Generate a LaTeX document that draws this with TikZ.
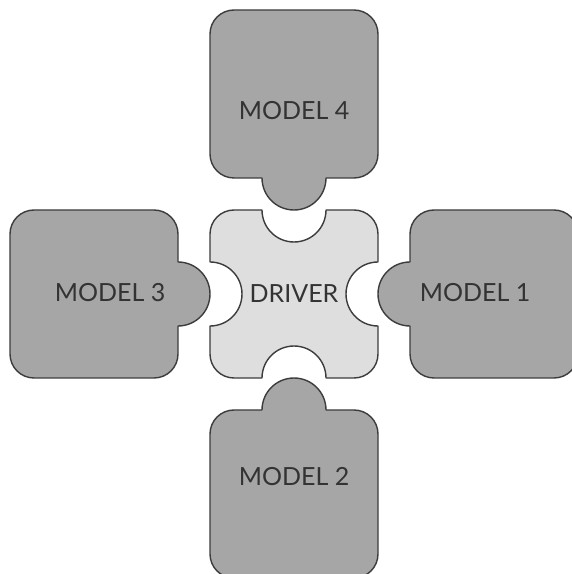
\documentclass[tikz,border=0pt]{standalone}
\usepackage{fontspec}
\setmainfont{Lato}
\definecolor{modelfill}{HTML}{A6A6A6}
\definecolor{driverfill}{HTML}{DEDEDE}
\definecolor{edge}{HTML}{3C3C3C}
\definecolor{txt}{HTML}{333333}
\tikzset{
  piece/.style={draw=edge, line width=1.4pt, line join=round},
  modelpiece/.style={piece, fill=modelfill},
  driverpiece/.style={piece, fill=driverfill},
  label/.style={text=txt, font=\fontsize{25}{29}\selectfont, inner sep=0pt}
}
\begin{document}
\begin{tikzpicture}[x=1pt,y=1pt]
\useasboundingbox (0,0) rectangle (572,574);
\clip (0,0) rectangle (572,574);
% Driver
\path[driverpiece] (210,340) arc[start angle=180,end angle=90,radius=24]
  -- (262,364) arc[start angle=180,end angle=360,radius=32]
  -- (354,364) arc[start angle=90,end angle=0,radius=24]
  -- (378,312) arc[start angle=90,end angle=270,radius=32]
  -- (378,220) arc[start angle=0,end angle=-90,radius=24]
  -- (326,196) arc[start angle=0,end angle=180,radius=32]
  -- (234,196) arc[start angle=270,end angle=180,radius=24]
  -- (210,248) arc[start angle=-90,end angle=90,radius=32]
  -- cycle;
% Model 4 (top)
\path[modelpiece] (210,540) arc[start angle=180,end angle=90,radius=24]
  -- (354,564) arc[start angle=90,end angle=0,radius=24]
  -- (378,420) arc[start angle=0,end angle=-90,radius=24]
  -- (326,396) arc[start angle=0,end angle=-180,radius=32]
  -- (234,396) arc[start angle=270,end angle=180,radius=24]
  -- cycle;
% Model 2 (bottom)
\path[modelpiece] (210,140) arc[start angle=180,end angle=90,radius=24]
  -- (262,164) arc[start angle=180,end angle=0,radius=32]
  -- (354,164) arc[start angle=90,end angle=0,radius=24]
  -- (378,20) arc[start angle=0,end angle=-90,radius=24]
  -- (234,-4) arc[start angle=270,end angle=180,radius=24]
  -- cycle;
% Model 3 (left)
\path[modelpiece] (10,340) arc[start angle=180,end angle=90,radius=24]
  -- (154,364) arc[start angle=90,end angle=0,radius=24]
  -- (178,312) arc[start angle=90,end angle=-90,radius=32]
  -- (178,220) arc[start angle=0,end angle=-90,radius=24]
  -- (34,196) arc[start angle=270,end angle=180,radius=24]
  -- cycle;
% Model 1 (right)
\path[modelpiece] (410,340) arc[start angle=180,end angle=90,radius=24]
  -- (554,364) arc[start angle=90,end angle=0,radius=24]
  -- (578,220) arc[start angle=0,end angle=-90,radius=24]
  -- (434,196) arc[start angle=270,end angle=180,radius=24]
  -- (410,248) arc[start angle=-90,end angle=-270,radius=32]
  -- cycle;
% Labels
\node[label] (driver) at (294,280) {DRIVER};
\node[label] (m4) at (294,463) {MODEL 4};
\node[label] (m3) at (110,281) {MODEL 3};
\node[label] (m1) at (475,281) {MODEL 1};
\node[label] (m2) at (294,97) {MODEL 2};
\end{tikzpicture}
\end{document}
